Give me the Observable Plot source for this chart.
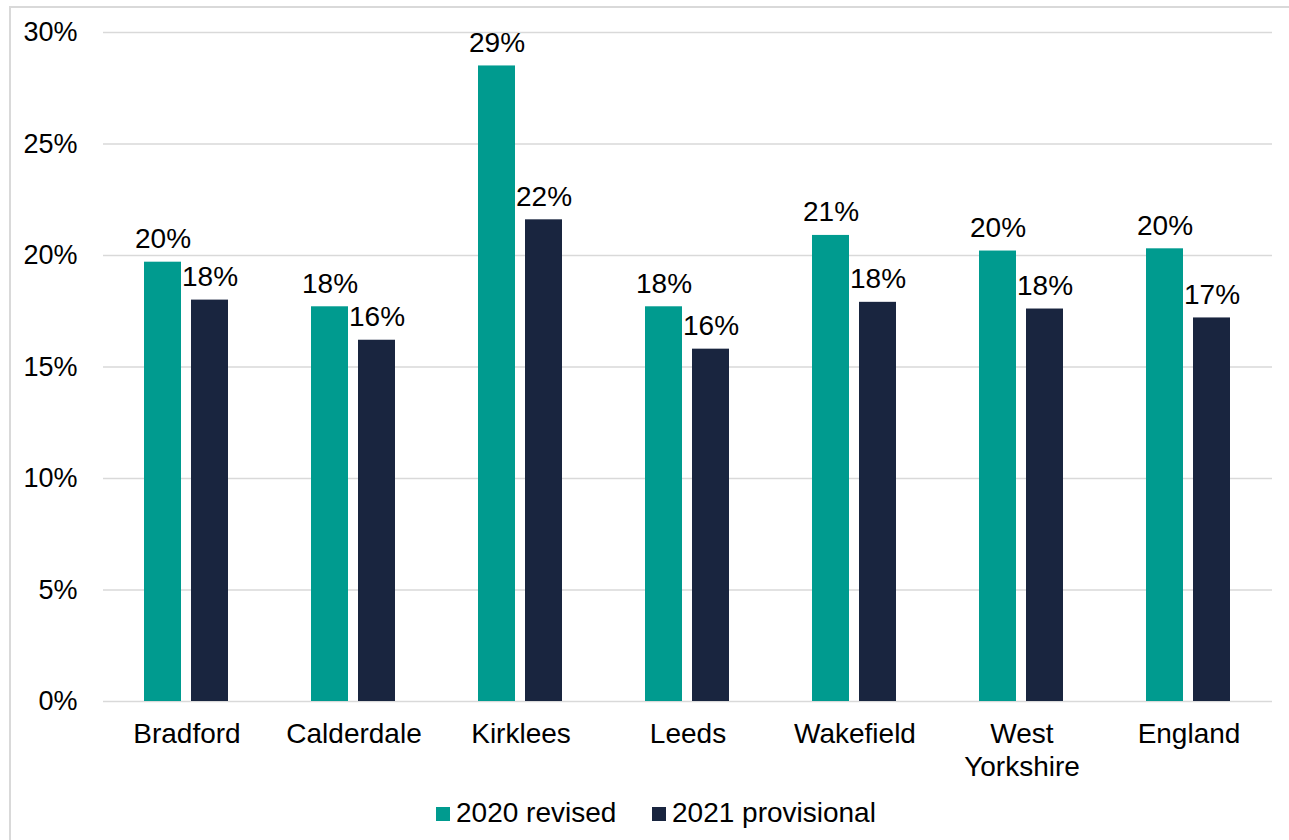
<!DOCTYPE html>
<html>
<head>
<meta charset="utf-8">
<script src="https://cdn.jsdelivr.net/npm/d3@7"></script>
<script src="https://cdn.jsdelivr.net/npm/@observablehq/plot@0.6"></script>
<style>
  html, body { margin: 0; padding: 0; background: #fff; }
  body { width: 1289px; height: 840px; position: relative; overflow: hidden;
         font-family: "Liberation Sans", Arial, sans-serif; }
  #frame { position: absolute; left: 9px; top: 6px; width: 1400px; height: 900px;
           border-left: 2px solid #d9d9d9; border-top: 2px solid #d9d9d9; box-sizing: border-box; }
  #chart { position: absolute; left: 0; top: 0; }
  .lg-item { position: absolute; top: 799px; height: 28px; }
  .lg-sw { position: absolute; left: 0; top: 8px; width: 14px; height: 14px; }
  .lg-tx { position: absolute; left: 20px; top: 0; font-size: 28px; line-height: 28px;
           color: #000; white-space: nowrap; }
</style>
</head>
<body>
<div id="frame"></div>
<div id="chart"></div>
<div id="legend"></div>
<script>
const categories = ["Bradford", "Calderdale", "Kirklees", "Leeds", "Wakefield", "West Yorkshire", "England"];
const categoryLabels = ["Bradford", "Calderdale", "Kirklees", "Leeds", "Wakefield", "West\nYorkshire", "England"];
const series = ["2020 revised", "2021 provisional"];
const values2020 = [19.7, 17.7, 28.5, 17.7, 20.9, 20.2, 20.3];
const values2021 = [18.0, 16.2, 21.6, 15.8, 17.9, 17.6, 17.2];
const yTicks = [0, 5, 10, 15, 20, 25, 30];
const colors = ["#009B8F", "#19253F"];

const data = [];
categories.forEach((c, i) => {
  data.push({category: c, series: series[0], value: values2020[i]});
  data.push({category: c, series: series[1], value: values2021[i]});
});
const labelOf = new Map(categories.map((c, i) => [c, categoryLabels[i]]));

const chart = Plot.plot({
  width: 1289,
  height: 786,
  marginLeft: 101,
  marginRight: 16,
  marginTop: 32,
  marginBottom: 85,
  style: {fontFamily: "'Liberation Sans', Arial, sans-serif", fontSize: "28px", color: "#000", background: "transparent"},
  fx: {domain: categories, padding: 0, label: null, axis: null},
  x: {domain: series, paddingInner: 0.2105, paddingOuter: 0.868, axis: null},
  y: {domain: [0, 30], label: null, axis: null},
  color: {domain: series, range: colors},
  marks: [
    Plot.gridY(yTicks, {stroke: "#d9d9d9", strokeOpacity: 1, strokeWidth: 1.5}),
    Plot.axisY(yTicks, {tickSize: 0, tickPadding: 26, tickFormat: d => d + "%", fontSize: 27, label: null}),
    Plot.axisFx({anchor: "bottom", tickSize: 0, tickPadding: 19, fontSize: 28, lineHeight: 1.15,
                 tickFormat: d => labelOf.get(d), label: null}),
    Plot.barY(data, {fx: "category", x: "series", y: "value", fill: "series"}),
    Plot.text(data, {fx: "category", x: "series", y: "value",
                     text: d => Math.round(d.value) + "%", dy: -14, lineAnchor: "bottom",
                     fontSize: 28, fill: "#000"})
  ]
});
document.getElementById("chart").appendChild(chart);

const legend = document.getElementById("legend");
const legendLeft = [436, 652];
series.forEach((s, i) => {
  const item = document.createElement("div");
  item.className = "lg-item";
  item.style.left = legendLeft[i] + "px";
  const sw = document.createElement("div");
  sw.className = "lg-sw";
  sw.style.background = colors[i];
  const tx = document.createElement("span");
  tx.className = "lg-tx";
  tx.textContent = s;
  item.appendChild(sw);
  item.appendChild(tx);
  legend.appendChild(item);
});
</script>
</body>
</html>
